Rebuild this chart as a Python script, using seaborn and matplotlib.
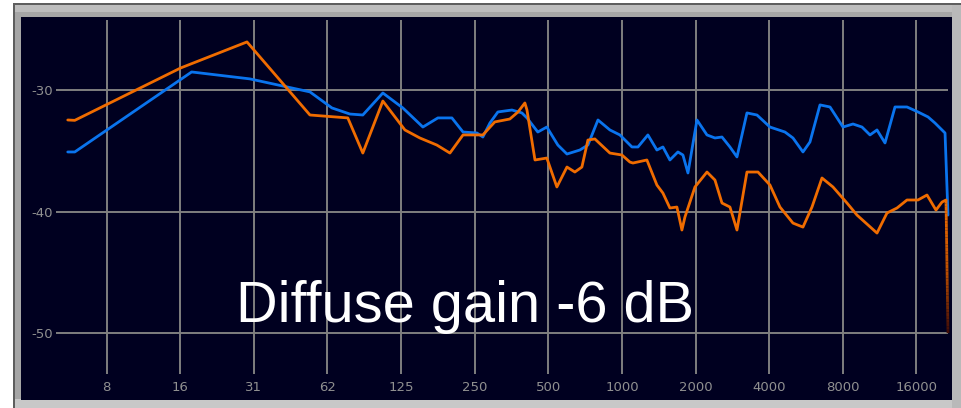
import matplotlib
matplotlib.use("Agg")
import matplotlib.pyplot as plt
from matplotlib.patches import Rectangle
from matplotlib.collections import LineCollection
from matplotlib.colors import LinearSegmentedColormap
import numpy as np
import pandas as pd
import seaborn as sns

# Response curves (frequency in Hz, level in dB)
orange_freq = [5.42, 5.79, 15.7, 29.3, 53.0, 75.7, 87.2, 105.3, 129.6, 149.2, 175, 198, 224, 270,
               302, 348, 376, 401, 409, 441, 493, 542, 596, 642, 686, 726, 775, 893, 1000, 1078,
               1109, 1265, 1390, 1471, 1571, 1678, 1759, 1810, 1989, 2227, 2401, 2565, 2765, 2954,
               3245, 3600, 4030, 4428, 5005, 5499, 5986, 6577, 7294, 8323, 9145, 11040, 12130,
               13330, 14640, 16240, 17680, 19240, 20360, 21140, 21540]
orange_db = [-32.47, -32.5, -28.19, -26.05, -32.06, -32.30, -35.19, -30.91, -33.29, -33.95, -34.53,
             -35.19, -33.70, -33.70, -32.63, -32.39, -31.81, -31.07, -31.65, -35.76, -35.60, -37.98,
             -36.34, -36.75, -36.34, -34.12, -34.03, -35.19, -35.35, -35.93, -36.01, -35.76, -37.82,
             -38.48, -39.71, -39.63, -41.52, -40.45, -37.98, -36.75, -37.41, -39.30, -39.63, -41.52,
             -36.75, -36.75, -37.82, -39.63, -40.95, -41.28, -39.63, -37.24, -37.98, -39.30, -40.29,
             -41.77, -40.12, -39.71, -39.05, -39.05, -38.64, -39.88, -39.22, -39.05, -50.0]

blue_freq = [5.42, 5.79, 17.4, 30.1, 53.0, 65.2, 77.2, 87.2, 105.3, 127.1, 153.5, 176.8, 201.7,
             224, 255.3, 270, 288.5, 311, 355, 390, 409, 453, 493, 547, 596, 673, 726, 798, 893,
             981, 1099, 1163, 1277, 1390, 1471, 1571, 1694, 1776, 1862, 2027, 2227, 2401, 2565,
             2765, 2954, 3245, 3566, 4030, 4642, 5005, 5499, 5873, 6454, 7092, 8015, 8807, 9585,
             10336, 11040, 11905, 13080, 14640, 16240, 17850, 19060, 20950, 21540]
blue_db = [-35.10, -35.10, -28.52, -29.09, -30.16, -31.48, -31.98, -32.06, -30.25, -31.48, -33.05,
           -32.30, -32.30, -33.46, -33.54, -33.87, -32.72, -31.81, -31.65, -31.89, -32.30, -33.46,
           -33.05, -34.53, -35.27, -34.94, -34.53, -32.47, -33.29, -33.70, -34.69, -34.69, -33.70,
           -34.94, -34.69, -35.76, -35.10, -35.35, -36.83, -32.47, -33.70, -33.95, -33.87, -34.69,
           -35.51, -31.89, -32.06, -33.05, -33.46, -33.95, -35.10, -34.28, -31.23, -31.40, -33.05,
           -32.80, -33.05, -33.70, -33.29, -34.36, -31.40, -31.40, -31.81, -32.22, -32.72, -33.54,
           -40.29]

tick_freqs = [7.8125, 15.625, 31.25, 62.5, 125, 250, 500, 1000, 2000, 4000, 8000, 16000]
tick_labels = ["8", "16", "31", "62", "125", "250", "500", "1000", "2000", "4000", "8000", "16000"]
db_ticks = [-30, -40, -50]
db_labels = ["-30", "-40", "-50"]
caption = "Diffuse gain -6 dB"

BLUE = "#0a74ee"
ORANGE = "#f06c00"

sns.set_theme(style="dark")

W, H = 961, 408
fig = plt.figure(figsize=(W / 100, H / 100), dpi=100)
fig.patch.set_facecolor("white")


def px_rect(x0, y0, x1, y1, color):
    """Rectangle given in pixel coordinates measured from the top-left corner."""
    fig.add_artist(Rectangle((x0 / W, 1 - y1 / H), (x1 - x0) / W, (y1 - y0) / H,
                             transform=fig.transFigure, facecolor=color,
                             edgecolor="none", zorder=0))


# bevelled panel frame
px_rect(13, 3, 961, 408, "#5e5e5e")
px_rect(15, 5, 961, 408, "#a6a6a6")
px_rect(15, 5, 961, 12, "#bdbdbd")
px_rect(15, 399, 961, 408, "#c8c8c8")
px_rect(952, 5, 961, 408, "#b9b9b9")

ax = fig.add_axes([21 / W, 1 - 400 / H, 931 / W, 383 / H])
ax.set_facecolor("#000020")
ax.set_xscale("log", base=2)
ax.set_xlim(3.49, 22370)
ax.set_ylim(-55.5, -24.0)
for s in ax.spines.values():
    s.set_visible(False)
ax.grid(False)

grid_col = "#7f7f7f"
ax.vlines(tick_freqs, -53.4, -24.25, color=grid_col, lw=1.4, zorder=1)
ax.hlines(db_ticks, 4.87, 21540, color=grid_col, lw=1.4, zorder=1)

blue = pd.DataFrame({"freq": blue_freq, "db": blue_db})
orange = pd.DataFrame({"freq": orange_freq, "db": orange_db})
sns.lineplot(data=blue, x="freq", y="db", ax=ax, color=BLUE, lw=2.0,
             sort=False, estimator=None, zorder=3)
sns.lineplot(data=orange.iloc[:-1], x="freq", y="db", ax=ax, color=ORANGE, lw=2.0,
             sort=False, estimator=None, zorder=4)

# final roll-off of the orange curve fades out towards the bottom
f0, f1 = orange_freq[-2], orange_freq[-1]
d0, d1 = orange_db[-2], orange_db[-1]
t = np.linspace(0, 1, 40)
fx = f0 * (f1 / f0) ** t
dy = d0 + (d1 - d0) * t
segs = np.stack([np.column_stack([fx[:-1], dy[:-1]]), np.column_stack([fx[1:], dy[1:]])], axis=1)
fade = LinearSegmentedColormap.from_list("fade", [ORANGE, "#c05000", "#3a0a08"])
ax.add_collection(LineCollection(segs, colors=fade(t[:-1]), lw=2.0, zorder=4))

ax.set_xlabel("")
ax.set_ylabel("")
ax.set_xticks(tick_freqs, tick_labels)
ax.xaxis.set_minor_locator(matplotlib.ticker.NullLocator())
ax.set_yticks(db_ticks, db_labels)
ax.tick_params(axis="x", length=0, pad=-14, labelsize=9.5, labelcolor="#909090")
ax.tick_params(axis="y", length=0, pad=-23, labelsize=9.5, labelcolor="#909090")

ax.text(0.231, 0.204, caption, transform=ax.transAxes, ha="left", va="baseline",
        color="white", fontsize=41.6, family=["Liberation Sans", "DejaVu Sans"], zorder=6)

fig.savefig("out.png", dpi=100, facecolor=fig.get_facecolor())
